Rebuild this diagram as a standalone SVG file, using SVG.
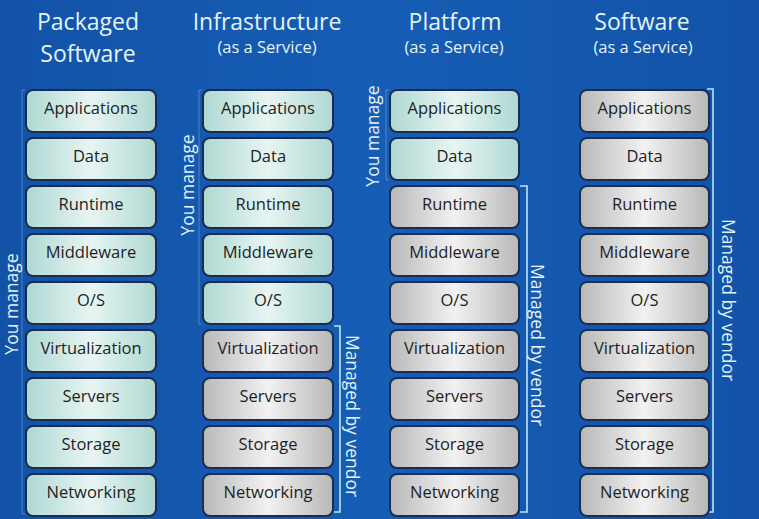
<svg xmlns="http://www.w3.org/2000/svg" width="759" height="519" viewBox="0 0 759 519">
<defs>
<linearGradient id="gTeal" x1="0" y1="0" x2="1" y2="0">
<stop offset="0" stop-color="#aed8d2"/><stop offset="0.5" stop-color="#e8f5f2"/><stop offset="1" stop-color="#aed8d2"/>
</linearGradient>
<linearGradient id="gGray" x1="0" y1="0" x2="1" y2="0">
<stop offset="0" stop-color="#b8b8b8"/><stop offset="0.5" stop-color="#f2f2f2"/><stop offset="1" stop-color="#b8b8b8"/>
</linearGradient>
<linearGradient id="gBg" x1="0" y1="0" x2="1" y2="0">
<stop offset="0" stop-color="#1253a8"/><stop offset="0.5" stop-color="#165db5"/><stop offset="1" stop-color="#1253a8"/>
</linearGradient>
</defs>
<style>
.t{fill:url(#gTeal);stroke:#1a2c52;stroke-width:2}
.g{fill:url(#gGray);stroke:#1a2c52;stroke-width:2}
.lbl{font-family:"Open Sans","Noto Sans",sans-serif;font-size:16.5px;fill:#1e1e1e;text-anchor:middle}
.h1{font-family:"Open Sans","Noto Sans",sans-serif;font-size:23px;fill:#e4f3f3;text-anchor:middle}
.h2{font-family:"Open Sans","Noto Sans",sans-serif;font-size:16.5px;fill:#e4f3f3;text-anchor:middle}
.v{font-family:"Open Sans","Noto Sans",sans-serif;font-size:17.5px;fill:#e4f3f3;text-anchor:middle}
.br{fill:none;stroke:#bfe3ee;stroke-width:1.6}
.bf{fill:none;stroke:#8fbfe0;stroke-width:1;opacity:0.45}
</style>
<rect width="759" height="519" fill="url(#gBg)"/>
<g id="headers">
<text class="h1" x="88" y="30">Packaged</text>
<text class="h1" x="88" y="62">Software</text>
<text class="h1" x="267" y="30">Infrastructure</text>
<text class="h2" x="267" y="53">(as a Service)</text>
<text class="h1" x="455" y="30">Platform</text>
<text class="h2" x="454" y="53">(as a Service)</text>
<text class="h1" x="642" y="30">Software</text>
<text class="h2" x="643" y="53">(as a Service)</text>
</g>
<g id="connectors">
<path class="bf" d="M25,90 H22 V514 H25"/>
<path class="bf" d="M202,90 H199 V324 H202"/>
<path class="bf" d="M389,90 H386 V180 H389"/>
<path class="br" d="M334,326 H340 V512 H334"/>
<path class="br" d="M520,186 H527 V512 H520"/>
<path class="br" d="M707,89 H713 V512 H707"/>
</g>
<g id="side-labels">
<text class="v" transform="translate(18,304) rotate(-90)">You manage</text>
<text class="v" transform="translate(194,185) rotate(-90)">You manage</text>
<text class="v" transform="translate(379,136) rotate(-90)">You manage</text>
<text class="v" transform="translate(346,416) rotate(90)">Managed by vendor</text>
<text class="v" transform="translate(531,345) rotate(90)">Managed by vendor</text>
<text class="v" transform="translate(722,300) rotate(90)">Managed by vendor</text>
</g>
<g id="packaged">
<g id="p-app"><rect class="t" x="26" y="90" width="130" height="42" rx="7"/><text class="lbl" x="91" y="114">Applications</text></g>
<g id="p-data"><rect class="t" x="26" y="138" width="130" height="42" rx="7"/><text class="lbl" x="91" y="162">Data</text></g>
<g id="p-rt"><rect class="t" x="26" y="186" width="130" height="42" rx="7"/><text class="lbl" x="91" y="210">Runtime</text></g>
<g id="p-mw"><rect class="t" x="26" y="234" width="130" height="42" rx="7"/><text class="lbl" x="91" y="258">Middleware</text></g>
<g id="p-os"><rect class="t" x="26" y="282" width="130" height="42" rx="7"/><text class="lbl" x="91" y="306">O/S</text></g>
<g id="p-virt"><rect class="t" x="26" y="330" width="130" height="42" rx="7"/><text class="lbl" x="91" y="354">Virtualization</text></g>
<g id="p-srv"><rect class="t" x="26" y="378" width="130" height="42" rx="7"/><text class="lbl" x="91" y="402">Servers</text></g>
<g id="p-sto"><rect class="t" x="26" y="426" width="130" height="42" rx="7"/><text class="lbl" x="91" y="450">Storage</text></g>
<g id="p-net"><rect class="t" x="26" y="474" width="130" height="42" rx="7"/><text class="lbl" x="91" y="498">Networking</text></g>
</g>
<g id="iaas">
<g id="i-app"><rect class="t" x="203" y="90" width="130" height="42" rx="7"/><text class="lbl" x="268" y="114">Applications</text></g>
<g id="i-data"><rect class="t" x="203" y="138" width="130" height="42" rx="7"/><text class="lbl" x="268" y="162">Data</text></g>
<g id="i-rt"><rect class="t" x="203" y="186" width="130" height="42" rx="7"/><text class="lbl" x="268" y="210">Runtime</text></g>
<g id="i-mw"><rect class="t" x="203" y="234" width="130" height="42" rx="7"/><text class="lbl" x="268" y="258">Middleware</text></g>
<g id="i-os"><rect class="t" x="203" y="282" width="130" height="42" rx="7"/><text class="lbl" x="268" y="306">O/S</text></g>
<g id="i-virt"><rect class="g" x="203" y="330" width="130" height="42" rx="7"/><text class="lbl" x="268" y="354">Virtualization</text></g>
<g id="i-srv"><rect class="g" x="203" y="378" width="130" height="42" rx="7"/><text class="lbl" x="268" y="402">Servers</text></g>
<g id="i-sto"><rect class="g" x="203" y="426" width="130" height="42" rx="7"/><text class="lbl" x="268" y="450">Storage</text></g>
<g id="i-net"><rect class="g" x="203" y="474" width="130" height="42" rx="7"/><text class="lbl" x="268" y="498">Networking</text></g>
</g>
<g id="paas">
<g id="pa-app"><rect class="t" x="390" y="90" width="129" height="42" rx="7"/><text class="lbl" x="454.5" y="114">Applications</text></g>
<g id="pa-data"><rect class="t" x="390" y="138" width="129" height="42" rx="7"/><text class="lbl" x="454.5" y="162">Data</text></g>
<g id="pa-rt"><rect class="g" x="390" y="186" width="129" height="42" rx="7"/><text class="lbl" x="454.5" y="210">Runtime</text></g>
<g id="pa-mw"><rect class="g" x="390" y="234" width="129" height="42" rx="7"/><text class="lbl" x="454.5" y="258">Middleware</text></g>
<g id="pa-os"><rect class="g" x="390" y="282" width="129" height="42" rx="7"/><text class="lbl" x="454.5" y="306">O/S</text></g>
<g id="pa-virt"><rect class="g" x="390" y="330" width="129" height="42" rx="7"/><text class="lbl" x="454.5" y="354">Virtualization</text></g>
<g id="pa-srv"><rect class="g" x="390" y="378" width="129" height="42" rx="7"/><text class="lbl" x="454.5" y="402">Servers</text></g>
<g id="pa-sto"><rect class="g" x="390" y="426" width="129" height="42" rx="7"/><text class="lbl" x="454.5" y="450">Storage</text></g>
<g id="pa-net"><rect class="g" x="390" y="474" width="129" height="42" rx="7"/><text class="lbl" x="454.5" y="498">Networking</text></g>
</g>
<g id="saas">
<g id="s-app"><rect class="g" x="580" y="90" width="129" height="42" rx="7"/><text class="lbl" x="644.5" y="114">Applications</text></g>
<g id="s-data"><rect class="g" x="580" y="138" width="129" height="42" rx="7"/><text class="lbl" x="644.5" y="162">Data</text></g>
<g id="s-rt"><rect class="g" x="580" y="186" width="129" height="42" rx="7"/><text class="lbl" x="644.5" y="210">Runtime</text></g>
<g id="s-mw"><rect class="g" x="580" y="234" width="129" height="42" rx="7"/><text class="lbl" x="644.5" y="258">Middleware</text></g>
<g id="s-os"><rect class="g" x="580" y="282" width="129" height="42" rx="7"/><text class="lbl" x="644.5" y="306">O/S</text></g>
<g id="s-virt"><rect class="g" x="580" y="330" width="129" height="42" rx="7"/><text class="lbl" x="644.5" y="354">Virtualization</text></g>
<g id="s-srv"><rect class="g" x="580" y="378" width="129" height="42" rx="7"/><text class="lbl" x="644.5" y="402">Servers</text></g>
<g id="s-sto"><rect class="g" x="580" y="426" width="129" height="42" rx="7"/><text class="lbl" x="644.5" y="450">Storage</text></g>
<g id="s-net"><rect class="g" x="580" y="474" width="129" height="42" rx="7"/><text class="lbl" x="644.5" y="498">Networking</text></g>
</g>
</svg>
